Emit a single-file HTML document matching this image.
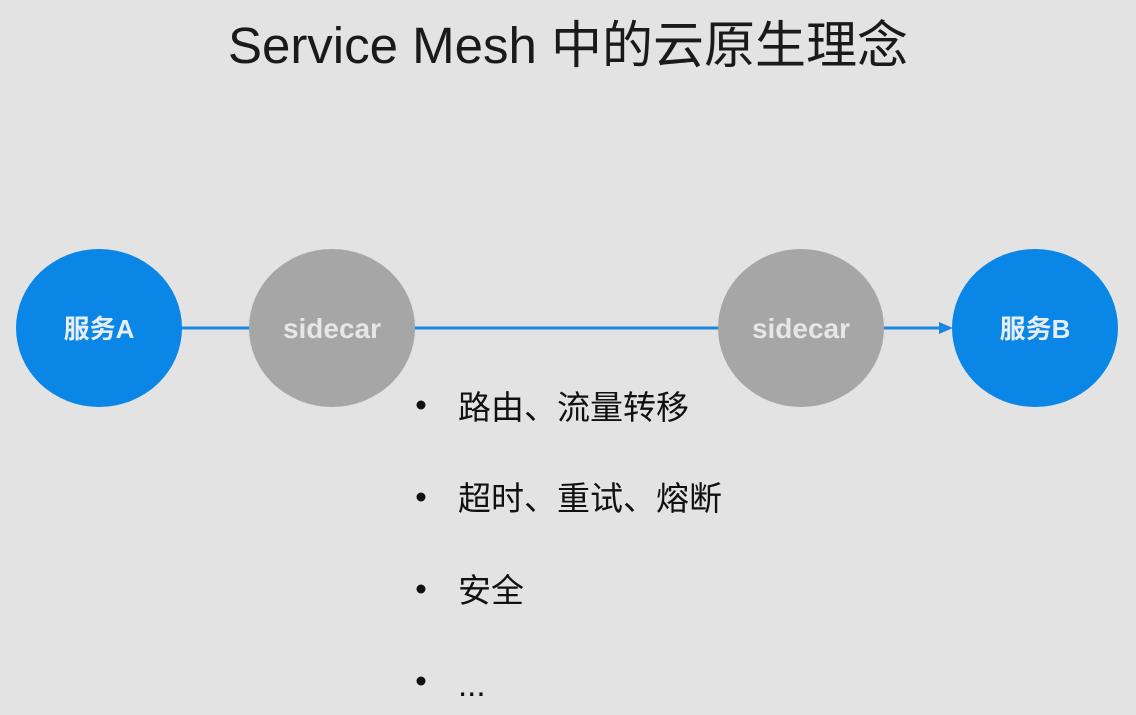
<!DOCTYPE html>
<html><head><meta charset="utf-8"><style>
body{margin:0;width:1136px;height:715px;background:#e3e3e3;overflow:hidden;font-family:"Liberation Sans","Noto Sans CJK SC",sans-serif}
</style></head><body>
<svg width="1136" height="715" xmlns="http://www.w3.org/2000/svg" style="position:absolute;left:0;top:0">
<text x="568" y="63" text-anchor="middle" font-size="51" fill="#1a1a1a" font-family="Liberation Sans, Noto Sans CJK SC, sans-serif">Service Mesh 中的云原生理念</text>
<line x1="180" y1="328" x2="942" y2="328" stroke="#1b86e0" stroke-width="3"/>
<polygon points="953,328 939,322 939,334" fill="#1b86e0"/>
<ellipse cx="99" cy="328" rx="83" ry="79" fill="#0a86e6"/>
<ellipse cx="332" cy="328" rx="83" ry="79" fill="#a6a6a6"/>
<ellipse cx="801" cy="328" rx="83" ry="79" fill="#a6a6a6"/>
<ellipse cx="1035" cy="328" rx="83" ry="79" fill="#0a86e6"/>
<g font-weight="bold" text-anchor="middle" font-family="Liberation Sans, Noto Sans CJK SC, sans-serif">
<text x="99" y="338" fill="#e8eef5" font-size="26">服务A</text>
<text x="332" y="338" fill="#e6e6e6" font-size="28">sidecar</text>
<text x="801" y="338" fill="#e6e6e6" font-size="28">sidecar</text>
<text x="1035" y="338" fill="#e8eef5" font-size="26">服务B</text>
</g>
<g fill="#111">
<circle cx="421" cy="405" r="4.5"/><circle cx="421" cy="497" r="4.5"/><circle cx="421" cy="589" r="4.5"/><circle cx="421" cy="681" r="4.5"/>
</g>
<g font-size="33" fill="#111" font-family="Liberation Sans, Noto Sans CJK SC, sans-serif">
<text x="458" y="419">路由、流量转移</text>
<text x="458" y="510">超时、重试、熔断</text>
<text x="458" y="602">安全</text>
<text x="458" y="696">...</text>
</g>
</svg>
</body></html>
